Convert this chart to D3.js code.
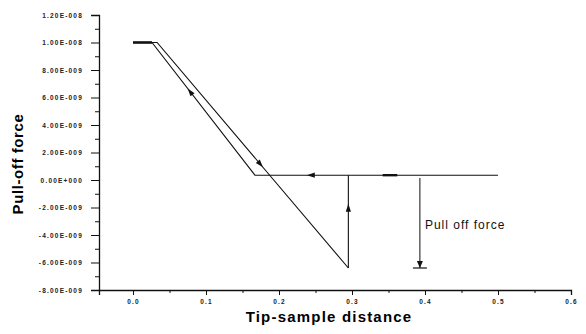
<!DOCTYPE html>
<html>
<head>
<meta charset="utf-8">
<script src="https://cdn.jsdelivr.net/npm/d3@7"></script>
<style>
  body { margin: 0; background: #fff; }
  svg { display: block; font-family: "Liberation Sans", Arial, sans-serif; }
</style>
</head>
<body>
<script>
// approach curve (tip moving in), jump-to-contact, retract curve
var approachX = [0.0, 0.033, 0.295];
var approachY = [1.0e-8, 1.0e-8, -6.4e-9];
var jumpX = [0.295, 0.295];
var jumpY = [-6.4e-9, 0.35e-9];
var retractX = [0.5, 0.167, 0.026, 0.0];
var retractY = [0.35e-9, 0.35e-9, 1.0e-8, 1.0e-8];
// pull-off force marker
var pullX = 0.393;
var pullY = [0.15e-9, -6.4e-9];

var yTicks = [1.2e-8, 1.0e-8, 8e-9, 6e-9, 4e-9, 2e-9, 0, -2e-9, -4e-9, -6e-9, -8e-9];
var yLabels = ["1.20E-008", "1.00E-008", "8.00E-009", "6.00E-009", "4.00E-009", "2.00E-009",
  "0.00E+000", "-2.00E-009", "-4.00E-009", "-6.00E-009", "-8.00E-009"];
var xTicks = [0.0, 0.1, 0.2, 0.3, 0.4, 0.5, 0.6];
var xLabels = ["0.0", "0.1", "0.2", "0.3", "0.4", "0.5", "0.6"];

var svgWidth = 586, svgHeight = 334;
var svg = d3.select("body").append("svg")
  .attr("width", svgWidth)
  .attr("height", svgHeight);

var x = d3.scaleLinear().domain([-0.0466, 0.6]).range([99, 571]);
var y = d3.scaleLinear().domain([-8e-9, 1.2e-8]).range([290, 15]);

// axes
var yAxis = d3.axisLeft(y).tickValues(yTicks).tickSize(8)
  .tickFormat(function(d, i) { return yLabels[i]; });
var yMinor = d3.axisLeft(y).tickValues(d3.range(-7e-9, 1.2e-8, 2e-9)).tickSize(4).tickFormat("");
var xAxis = d3.axisBottom(x).tickValues(xTicks).tickSize(5)
  .tickFormat(function(d, i) { return xLabels[i]; });
var xMinor = d3.axisBottom(x).tickValues(d3.range(0.05, 0.6, 0.1)).tickSize(3).tickFormat("");

var gy = svg.append("g").attr("transform", "translate(99,0)").call(yAxis);
svg.append("g").attr("transform", "translate(99,0)").call(yMinor).select(".domain").remove();
var gx = svg.append("g").attr("transform", "translate(0,290)").call(xAxis);
svg.append("g").attr("transform", "translate(0,290)").call(xMinor).select(".domain").remove();

svg.selectAll(".domain").attr("stroke", "#111").attr("stroke-width", 1.3);
svg.selectAll(".tick line").attr("stroke", "#111");
gy.selectAll(".tick text")
  .attr("x", -16)
  .style("font-size", "6.5px").style("font-weight", "bold")
  .style("letter-spacing", "1.2px").attr("fill", "#222");
gx.selectAll(".tick text")
  .attr("y", 9)
  .style("font-size", "6.5px").style("font-weight", "bold")
  .style("letter-spacing", "1.2px").attr("fill", "#222");

// axis titles
svg.append("text")
  .attr("transform", "translate(23,164) rotate(-90)")
  .attr("text-anchor", "middle")
  .style("font-size", "15px").style("font-weight", "bold")
  .style("letter-spacing", "0.6px")
  .text("Pull-off force");
svg.append("text")
  .attr("x", 329).attr("y", 322)
  .attr("text-anchor", "middle")
  .style("font-size", "15px").style("font-weight", "bold")
  .style("letter-spacing", "1.2px")
  .text("Tip-sample distance");

var line = d3.line().x(function(d) { return x(d[0]); }).y(function(d) { return y(d[1]); });

function draw(xs, ys) {
  svg.append("path")
    .datum(d3.zip(xs, ys))
    .attr("d", line)
    .attr("fill", "none")
    .attr("stroke", "#111")
    .attr("stroke-width", 1.1);
}
draw(approachX, approachY);
draw(jumpX, jumpY);
draw(retractX, retractY);

// thick start segment
svg.append("path")
  .datum([[approachX[0], approachY[0]], [retractX[2], retractY[2]]])
  .attr("d", line)
  .attr("stroke", "#111").attr("stroke-width", 2.6);
// thick piece on flat line
svg.append("path")
  .datum([[0.342, retractY[0]], [0.362, retractY[0]]])
  .attr("d", line)
  .attr("stroke", "#111").attr("stroke-width", 2.4);

// direction arrowheads placed along segments
function arrowAt(x0, y0, x1, y1, t) {
  var px = x(x0) + (x(x1) - x(x0)) * t;
  var py = y(y0) + (y(y1) - y(y0)) * t;
  var ang = Math.atan2(y(y1) - y(y0), x(x1) - x(x0)) * 180 / Math.PI;
  svg.append("path")
    .attr("d", "M4,0 L-4,-2.6 L-4,2.6 Z")
    .attr("transform", "translate(" + px + "," + py + ") rotate(" + ang + ")")
    .attr("fill", "#111");
}
arrowAt(approachX[1], approachY[1], approachX[2], approachY[2], 0.54);
arrowAt(retractX[1], retractY[1], retractX[2], retractY[2], 0.63);
arrowAt(retractX[0], retractY[0], retractX[1], retractY[1], 0.77);
arrowAt(jumpX[0], jumpY[0], jumpX[1], jumpY[1], 0.65);

// pull-off force indicator
svg.append("line")
  .attr("x1", x(pullX)).attr("x2", x(pullX))
  .attr("y1", y(pullY[0])).attr("y2", y(pullY[1]))
  .attr("stroke", "#111").attr("stroke-width", 1);
svg.append("path")
  .attr("d", "M0,0 L-3,-7 L3,-7 Z")
  .attr("transform", "translate(" + x(pullX) + "," + y(pullY[1]) + ")")
  .attr("fill", "#111");
svg.append("line")
  .attr("x1", x(pullX) - 7).attr("x2", x(pullX) + 7)
  .attr("y1", y(pullY[1])).attr("y2", y(pullY[1]))
  .attr("stroke", "#111").attr("stroke-width", 1.2);
svg.append("text")
  .attr("x", x(pullX) + 5).attr("y", 229)
  .style("font-size", "12px")
  .style("letter-spacing", "1px")
  .attr("fill", "#111")
  .text("Pull off force");
</script>
</body>
</html>
